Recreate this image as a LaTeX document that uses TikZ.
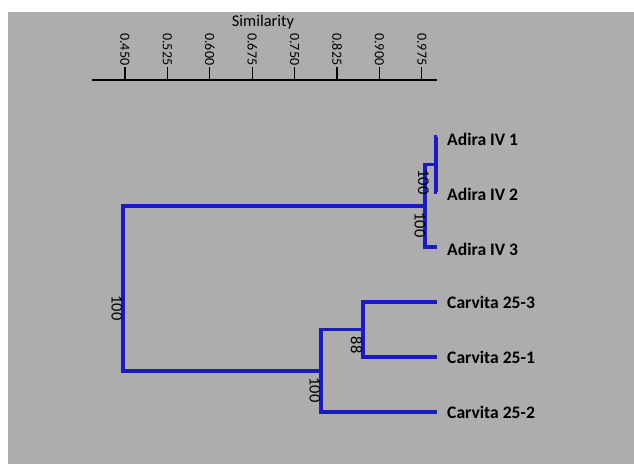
\documentclass[tikz,border=0pt]{standalone}
\usepackage{fontspec}
\setmainfont{Carlito}
\usetikzlibrary{positioning}
\definecolor{cbg}{RGB}{173,173,173}
\definecolor{cbranch}{RGB}{28,28,190}
\tikzset{
  branch/.style    = {draw=cbranch, line width=2.6pt, line join=miter},
  axisline/.style  = {draw=black, line width=1.8pt},
  tickmark/.style  = {draw=black, line width=1.1pt},
  ticklabel/.style = {rotate=-90, anchor=west, inner sep=0pt,
                      font=\fontsize{12}{13}\selectfont},
  boot/.style      = {rotate=-90, inner sep=0pt,
                      font=\fontsize{14}{15}\selectfont},
  leaf/.style      = {inner sep=0pt, font=\bfseries\fontsize{15}{17}\selectfont}
}

\begin{document}
\begin{tikzpicture}[x=0.03cm, y=-0.03cm]

% ── Canvas (pixel units, y down) ──────────────────────────────────────────
\useasboundingbox (0,0) rectangle (634,464);
\fill[white] (0,0) rectangle (634,464);
\fill[cbg]   (8,12) rectangle (634,464);

% ── Similarity axis ───────────────────────────────────────────────────────
\node[font=\fontsize{14}{15}\selectfont] (simtitle) at (263,22) {Similarity};
\draw[axisline] (92,80) -- (437,80);
\foreach \v/\x [count=\i] in {0.450/125, 0.525/167.4, 0.600/209.8, 0.675/252.2,
                              0.750/294.6, 0.825/337, 0.900/379.4, 0.975/421.8}
{
  \draw[tickmark] (\x,80) -- (\x,67);
  \node[ticklabel] (t\i) at (\x,33) {\v};
}

% ── Leaves (x = 437, 55 px apart) ─────────────────────────────────────────
\coordinate (a1) at (437,137);
\coordinate (a2) at (437,192);
\coordinate (a3) at (437,247);
\coordinate (c3) at (437,302);
\coordinate (c1) at (437,357);
\coordinate (c2) at (437,412);

\node[leaf, right=0.3cm of a1, yshift=-2pt] (la1) {Adira IV 1};
\node[leaf, right=0.3cm of a2, yshift=-2pt] (la2) {Adira IV 2};
\node[leaf, right=0.3cm of a3, yshift=-2pt] (la3) {Adira IV 3};
\node[leaf, right=0.3cm of c3] (lc3) {Carvita 25-3};
\node[leaf, right=0.3cm of c1] (lc1) {Carvita 25-1};
\node[leaf, right=0.3cm of c2] (lc2) {Carvita 25-2};

% ── Internal nodes ────────────────────────────────────────────────────────
\coordinate (a12)  at (436,164.5);
\coordinate (a123) at (425,206);
\coordinate (c31)  at (363,329.5);
\coordinate (c312) at (321,371);
\coordinate (root) at (123,288.5);

% ── Branches ──────────────────────────────────────────────────────────────
\draw[branch] (a1)   -| (a12)  |- (a2);
\draw[branch] (a12)  -| (a123) |- (a3);
\draw[branch] (c3)   -| (c31)  |- (c1);
\draw[branch] (c31)  -| (c312) |- (c2);
\draw[branch] (a123) -| (root) |- (c312);

% ── Bootstrap values ──────────────────────────────────────────────────────
\node[boot] (b12)   at (423.5,182) {100};
\node[boot] (b123)  at (420,225)   {100};
\node[boot] (b31)   at (356.5,345) {88};
\node[boot] (b312)  at (315,390)   {100};
\node[boot] (broot) at (117,308)   {100};

\end{tikzpicture}
\end{document}
